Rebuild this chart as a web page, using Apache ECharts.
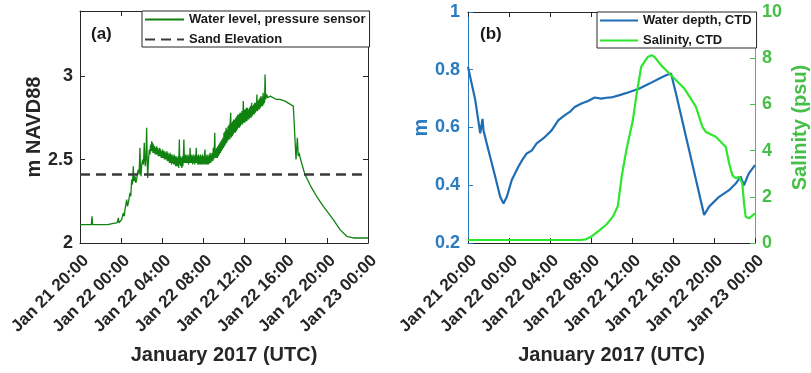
<!DOCTYPE html>
<html><head><meta charset="utf-8">
<script src="https://cdn.jsdelivr.net/npm/echarts@6/dist/echarts.min.js"></script>
<style>html,body{margin:0;padding:0;background:#fff}#c{width:811px;height:373px}</style>
</head><body><div id="c"></div>
<script>
// ---- data (hours after Jan 21 20:00 UTC) ----
var xTickLabels = ['Jan 21 20:00','Jan 22 00:00','Jan 22 04:00','Jan 22 08:00','Jan 22 12:00','Jan 22 16:00','Jan 22 20:00','Jan 23 00:00'];
var yTicksA = [2, 2.5, 3];
var yTicksBLeft = [0.2, 0.4, 0.6, 0.8, 1];
var yTicksBRight = [0, 2, 4, 6, 8, 10];
var sandElevation = 2.41;

var waterLevel = [
[0,2.11],[1.1,2.11],[1.17,2.16],[1.22,2.11],[2.5,2.11],[2.6,2.115],[2.7,2.11],[3.24,2.118],[3.6,2.12],[3.73,2.15],[3.8,2.12],
[4.05,2.14],[4.15,2.13],[4.21,2.18],[4.3,2.16],[4.375,2.2],[4.45,2.19],[4.54,2.26],[4.62,2.22],[4.7,2.24],[4.78,2.27],[4.86,2.3],
[4.94,2.28],[5.02,2.38],[5.1,2.35],[5.18,2.46],[5.24,2.37],[5.35,2.40],[5.43,2.36],[5.51,2.38],[5.59,2.42],[5.67,2.44],[5.75,2.41],
[5.83,2.57],[5.88,2.43],[5.93,2.40],[6.0,2.47],[6.09,2.5],[6.17,2.47],[6.25,2.6],[6.3,2.5],[6.35,2.46],[6.42,2.52],[6.48,2.69],
[6.53,2.5],[6.58,2.39],[6.66,2.5],[6.74,2.56],[6.8,2.53],[6.87,2.59],[6.92,2.55],[6.97,2.61],[7.02,2.55],[7.06,2.6],
[7.1,2.54],[7.15,2.59],[7.2,2.54],[7.25,2.58],[7.3,2.53],[7.35,2.57],[7.4,2.53],[7.45,2.58],[7.5,2.53],[7.55,2.57],[7.6,2.52],
[7.65,2.56],[7.7,2.52],[7.75,2.57],[7.8,2.52],[7.85,2.56],[7.9,2.51],[7.95,2.55],[8.0,2.51],[8.05,2.56],[8.1,2.51],[8.15,2.55],
[8.2,2.5],[8.25,2.55],[8.3,2.5],[8.35,2.54],[8.4,2.5],[8.45,2.55],[8.5,2.49],[8.55,2.54],[8.6,2.49],[8.65,2.53],[8.7,2.48],
[8.75,2.54],[8.8,2.48],[8.85,2.53],[8.9,2.47],[8.95,2.53],[9.0,2.48],[9.05,2.52],[9.1,2.47],[9.15,2.53],[9.2,2.47],[9.25,2.52],
[9.3,2.46],[9.35,2.52],[9.4,2.46],[9.45,2.51],[9.5,2.46],[9.55,2.52],[9.6,2.45],[9.66,2.62],[9.7,2.47],[9.75,2.52],[9.8,2.46],
[9.85,2.51],[9.9,2.45],[9.95,2.52],[10.0,2.46],[10.05,2.52],[10.1,2.62],[10.15,2.48],[10.2,2.53],[10.25,2.48],[10.3,2.53],
[10.35,2.48],[10.4,2.52],[10.45,2.48],[10.5,2.53],[10.55,2.47],[10.6,2.52],[10.65,2.48],[10.7,2.57],[10.75,2.48],[10.8,2.53],
[10.85,2.48],[10.9,2.52],[10.95,2.47],[11.0,2.53],[11.05,2.48],[11.1,2.52],[11.15,2.47],[11.2,2.53],[11.25,2.48],[11.3,2.57],
[11.35,2.48],[11.4,2.52],[11.45,2.47],[11.5,2.53],[11.55,2.47],[11.6,2.52],[11.65,2.47],[11.7,2.53],[11.75,2.47],[11.8,2.52],
[11.85,2.47],[11.9,2.53],[11.95,2.47],[12.0,2.52],[12.05,2.47],[12.1,2.53],[12.15,2.56],[12.2,2.47],[12.25,2.52],[12.3,2.47],
[12.35,2.53],[12.4,2.47],[12.45,2.52],[12.5,2.47],[12.55,2.53],[12.6,2.48],[12.65,2.54],[12.7,2.48],[12.75,2.53],[12.8,2.49],
[12.85,2.54],[12.9,2.49],[12.96,2.57],[13.0,2.5],[13.05,2.55],[13.1,2.66],[13.15,2.51],[13.2,2.56],[13.25,2.51],[13.3,2.57],
[13.35,2.51],[13.4,2.58],[13.45,2.52],[13.5,2.59],[13.55,2.53],[13.6,2.6],[13.65,2.54],[13.7,2.61],[13.75,2.55],[13.8,2.62],
[13.85,2.56],[13.9,2.63],[13.95,2.57],[14.0,2.66],[14.05,2.58],[14.1,2.67],[14.15,2.59],[14.2,2.69],[14.25,2.6],[14.3,2.68],
[14.35,2.61],[14.4,2.7],[14.45,2.62],[14.5,2.71],[14.55,2.62],[14.6,2.72],[14.65,2.78],[14.7,2.63],[14.75,2.72],[14.8,2.64],
[14.85,2.73],[14.9,2.65],[14.95,2.74],[15.0,2.66],[15.05,2.74],[15.1,2.66],[15.15,2.75],[15.2,2.67],[15.25,2.76],[15.3,2.68],
[15.35,2.77],[15.4,2.69],[15.45,2.77],[15.5,2.69],[15.55,2.78],[15.6,2.7],[15.65,2.78],[15.7,2.71],[15.75,2.79],[15.8,2.71],
[15.88,2.85],[15.92,2.72],[15.97,2.8],[16.02,2.72],[16.07,2.8],[16.12,2.73],[16.17,2.81],[16.22,2.73],[16.27,2.81],[16.32,2.74],
[16.37,2.8],[16.42,2.74],[16.47,2.81],[16.52,2.75],[16.57,2.82],[16.62,2.75],[16.69,2.84],[16.74,2.76],[16.79,2.82],[16.84,2.77],
[16.89,2.83],[16.94,2.77],[16.99,2.84],[17.04,2.78],[17.09,2.84],[17.14,2.79],[17.2,2.89],[17.25,2.79],[17.3,2.85],[17.35,2.8],
[17.4,2.86],[17.45,2.8],[17.5,2.87],[17.55,2.81],[17.6,2.88],[17.65,2.82],[17.7,2.87],[17.75,2.82],[17.8,2.9],[17.85,2.83],
[17.9,2.88],[17.95,2.84],[17.99,3.01],[18.05,2.86],[18.15,2.89],[18.25,2.87],[18.5,2.88],[19.1,2.86],[19.44,2.86],[19.93,2.85],
[20.1,2.85],[20.74,2.82],[20.9,2.81],[21.0,2.5],[21.13,2.63],[21.22,2.52],[21.3,2.54],[21.45,2.5],[21.87,2.41],[22.52,2.33],
[23.0,2.28],[23.66,2.22],[24.63,2.14],[25.28,2.08],[25.93,2.04],[26.57,2.03],[28.0,2.03]
];

var waterDepth = [
[0,0.81],[0.71,0.695],[1.19,0.58],[1.3,0.575],[1.42,0.63],[1.51,0.59],[2.0,0.52],[2.65,0.43],[3.14,0.36],[3.46,0.337],
[3.79,0.36],[4.27,0.418],[4.91,0.464],[5.3,0.488],[5.73,0.51],[6.21,0.52],[6.7,0.545],[7.34,0.562],[7.7,0.574],[8.16,0.59],
[8.8,0.625],[9.45,0.643],[9.93,0.654],[10.41,0.671],[11.07,0.683],[11.71,0.692],[12.36,0.704],[13.01,0.70],[13.5,0.703],
[13.98,0.704],[14.79,0.712],[15.76,0.723],[16.73,0.735],[17.7,0.752],[18.67,0.77],[19.32,0.781],[19.81,0.787],[20.29,0.718],
[21.58,0.52],[23.04,0.297],[23.52,0.326],[24.5,0.36],[25.47,0.383],[26.12,0.406],[26.6,0.43],[26.92,0.40],[27.4,0.441],
[28,0.47]
];

var salinity = [
[0,0.13],[11.0,0.13],[11.5,0.16],[12.0,0.27],[12.85,0.56],[13.5,0.8],[14.14,1.14],[14.62,1.6],[15.0,2.9],[15.44,4.0],[16.08,5.3],
[16.41,6.33],[16.89,7.62],[17.53,8.05],[17.92,8.13],[18.2,8.05],[18.83,7.7],[19.81,7.26],[21.1,6.69],[22.23,5.9],[22.87,5.03],
[23.2,4.81],[24.17,4.6],[25.15,4.16],[25.47,3.45],[25.79,2.94],[26.12,2.8],[26.45,2.87],[26.76,2.58],[26.93,1.72],[27.09,1.14],
[27.42,1.07],[28,1.28]
];

// ---- styling ----
var FONT = 'Liberation Sans, Arial, sans-serif';
var DARK = '#262626';
var BLUE_AX = '#2a7bbf', BLUE_LN = '#1f6db5';
var GREEN_AX = '#45bf45', GREEN_LN = '#2ee62e';
var WL_GREEN = '#0f820f';

function fmt(v){ return String(Math.round(v*100)/100); }
function xLabel(v){ var i = Math.round(v/4); return (Math.abs(v - i*4) < 1e-6 && xTickLabels[i]) ? xTickLabels[i] : ''; }
function onlyTicks(arr){ return function(v){ var r = Math.round(v*100)/100; return arr.indexOf(r) >= 0 ? fmt(r) : ''; }; }

function xBottom(grid){
  return {type:'value', gridIndex:grid, min:0, max:28, interval:4, position:'bottom',
    axisLine:{show:true, onZero:false, lineStyle:{color:DARK, width:1}},
    axisTick:{show:true, inside:true, length:5, lineStyle:{color:DARK}},
    splitLine:{show:false},
    axisLabel:{formatter:xLabel, rotate:45, margin:9, verticalAlign:'top', color:DARK, fontFamily:FONT, fontWeight:'bold', fontSize:17},
    name:'January 2017 (UTC)', nameLocation:'middle', nameGap:102,
    nameTextStyle:{color:DARK, fontFamily:FONT, fontWeight:'bold', fontSize:20}};
}
function xTop(grid){
  return {type:'value', gridIndex:grid, min:0, max:28, interval:4, position:'top',
    axisLine:{show:true, onZero:false, lineStyle:{color:DARK, width:1}},
    axisTick:{show:true, inside:true, length:5, lineStyle:{color:DARK}},
    splitLine:{show:false}, axisLabel:{show:false}};
}

var legendCommon = {orient:'vertical', itemHeight:13, itemGap:7, backgroundColor:'#fff',
  borderColor:DARK, borderWidth:1, borderRadius:0, selectedMode:false,
  itemStyle:{opacity:0, borderWidth:0},
  textStyle:{color:'#1a1a1a', fontFamily:FONT, fontWeight:'bold', fontSize:13}};

var chart = echarts.init(document.getElementById('c'), null, {renderer:'canvas'});
chart.setOption({
  animation:false,
  backgroundColor:'#fff',
  grid:[
    {left:80, top:11, width:288, height:232},
    {left:468, top:12, width:288, height:231}
  ],
  xAxis:[ xBottom(0), xTop(0), xBottom(1), xTop(1) ],
  yAxis:[
    {type:'value', gridIndex:0, min:2, max:3.39, interval:0.5, position:'left',
      axisLine:{show:true, onZero:false, lineStyle:{color:DARK, width:1}},
      axisTick:{show:true, inside:true, length:5, lineStyle:{color:DARK}},
      splitLine:{show:false},
      axisLabel:{formatter:onlyTicks(yTicksA), margin:7, color:DARK, fontFamily:FONT, fontWeight:'bold', fontSize:18},
      name:'m NAVD88', nameLocation:'middle', nameGap:33,
      nameTextStyle:{color:DARK, fontFamily:FONT, fontWeight:'bold', fontSize:20}},
    {type:'value', gridIndex:0, min:2, max:3.39, interval:0.5, position:'right',
      axisLine:{show:true, onZero:false, lineStyle:{color:DARK, width:1}},
      axisTick:{show:true, inside:true, length:5, lineStyle:{color:DARK}},
      splitLine:{show:false}, axisLabel:{show:false}},
    {type:'value', gridIndex:1, min:0.2, max:1, interval:0.2, position:'left',
      axisLine:{show:true, onZero:false, lineStyle:{color:BLUE_AX, width:1}},
      axisTick:{show:true, inside:true, length:5, lineStyle:{color:BLUE_AX}},
      splitLine:{show:false},
      axisLabel:{formatter:onlyTicks(yTicksBLeft), margin:8, color:BLUE_AX, fontFamily:FONT, fontWeight:'bold', fontSize:18},
      name:'m', nameLocation:'middle', nameGap:36,
      nameTextStyle:{color:BLUE_AX, fontFamily:FONT, fontWeight:'bold', fontSize:20}},
    {type:'value', gridIndex:1, min:0, max:10, interval:2, position:'right',
      axisLine:{show:true, onZero:false, lineStyle:{color:GREEN_AX, width:1}},
      axisTick:{show:true, inside:true, length:5, lineStyle:{color:GREEN_AX}},
      splitLine:{show:false},
      axisLabel:{formatter:onlyTicks(yTicksBRight), margin:7, color:GREEN_AX, fontFamily:FONT, fontWeight:'bold', fontSize:18},
      name:'Salinity (psu)', nameLocation:'middle', nameGap:35, nameRotate:90,
      nameTextStyle:{color:GREEN_AX, fontFamily:FONT, fontWeight:'bold', fontSize:20}}
  ],
  legend:[
    Object.assign({}, legendCommon, {data:['Water level, pressure sensor','Sand Elevation'], left:142, top:11,
      itemWidth:39, padding:[2,4,1,2]}),
    Object.assign({}, legendCommon, {data:['Water depth, CTD','Salinity, CTD'], left:597, top:12,
      itemWidth:38, padding:[2,5,1,2]})
  ],
  graphic:[
    {type:'text', left:91, top:26, style:{text:'(a)', fill:'#1a1a1a', font:'bold 17px '+FONT}},
    {type:'text', left:480, top:26, style:{text:'(b)', fill:'#1a1a1a', font:'bold 17px '+FONT}}
  ],
  series:[
    {name:'Water level, pressure sensor', type:'line', xAxisIndex:0, yAxisIndex:0, data:waterLevel,
      symbol:'none', showSymbol:false, lineStyle:{color:WL_GREEN, width:1.3}, itemStyle:{color:WL_GREEN}, z:3},
    {name:'Sand Elevation', type:'line', xAxisIndex:0, yAxisIndex:0, data:[[0,sandElevation],[28,sandElevation]],
      symbol:'none', showSymbol:false, lineStyle:{color:'#3a3a3a', width:2.5, type:[10,6]}, itemStyle:{color:'#3a3a3a'}, z:4},
    {name:'Water depth, CTD', type:'line', xAxisIndex:2, yAxisIndex:2, data:waterDepth,
      symbol:'none', showSymbol:false, lineStyle:{color:BLUE_LN, width:2.2}, itemStyle:{color:BLUE_LN}, z:3},
    {name:'Salinity, CTD', type:'line', xAxisIndex:2, yAxisIndex:3, data:salinity,
      symbol:'none', showSymbol:false, lineStyle:{color:GREEN_LN, width:2.2}, itemStyle:{color:GREEN_LN}, z:3}
  ]
});
</script></body></html>
